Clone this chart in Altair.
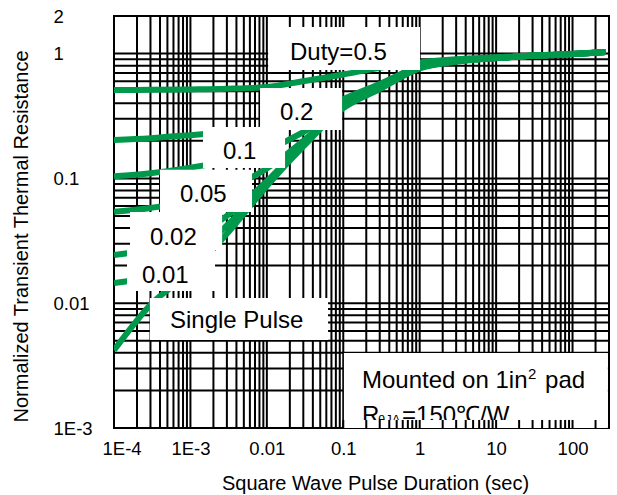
import altair as alt
import pandas as pd

# Pulse durations (s) at which each curve is sampled
pulse_t = [1e-4, 3e-4, 1e-3, 3e-3, 1e-2, 3e-2, 0.1, 0.3, 1, 3, 10, 30, 100, 270]

# Normalized transient thermal resistance, one list per duty cycle
duty_05 = [0.51, 0.512, 0.516, 0.522, 0.54, 0.60, 0.68, 0.77, 0.85, 0.90, 0.935, 0.965, 0.995, 1.03]
duty_02 = [0.203, 0.21, 0.222, 0.235, 0.25, 0.29, 0.43, 0.57, 0.79, 0.88, 0.925, 0.96, 0.99, 1.03]
duty_01 = [0.104, 0.110, 0.122, 0.138, 0.17, 0.235, 0.39, 0.54, 0.77, 0.87, 0.92, 0.96, 0.99, 1.03]
duty_005 = [0.054, 0.058, 0.066, 0.083, 0.12, 0.20, 0.38, 0.53, 0.77, 0.87, 0.92, 0.96, 0.99, 1.03]
duty_002 = [0.0243, 0.027, 0.033, 0.05, 0.095, 0.19, 0.375, 0.53, 0.77, 0.87, 0.92, 0.96, 0.99, 1.03]
duty_001 = [0.0145, 0.0165, 0.023, 0.042, 0.09, 0.185, 0.37, 0.525, 0.77, 0.87, 0.92, 0.96, 0.99, 1.03]
single_pulse = [0.0042, 0.0097, 0.0177, 0.036, 0.087, 0.18, 0.365, 0.52, 0.76, 0.86, 0.92, 0.96, 0.99, 1.03]

series = {
    "D=0.5": duty_05,
    "D=0.2": duty_02,
    "D=0.1": duty_01,
    "D=0.05": duty_005,
    "D=0.02": duty_002,
    "D=0.01": duty_001,
    "Single": single_pulse,
}

# Curve labels (white boxes with text)
label_text = ["Duty=0.5", "0.2", "0.1", "0.05", "0.02", "0.01", "Single Pulse", "Mounted on 1in"]
label_t = [0.0201, 0.0149, 0.00267, 7.3e-4, 2.96e-4, 2.32e-4, 5.4e-4, 0.176]
label_r = [0.888, 0.294, 0.143, 0.0647, 0.0292, 0.0145, 0.00632, 0.00209]
box_t0 = [0.0104, 0.00815, 0.00146, 4.0e-4, 1.62e-4, 1.48e-4, 2.95e-4, 0.102]
box_t1 = [1.01, 0.0964, 0.0173, 0.0064, 2.6e-3, 2.1e-3, 0.0632, 290]
box_r0 = [1.63, 0.53, 0.258, 0.117, 0.0537, 0.0267, 0.011, 0.00399]
box_r1 = [0.738, 0.244, 0.121, 0.0537, 0.0267, 0.0125, 0.00507, 0.00116]

# Second line of the mounting note, drawn in pieces for the subscript
rth_t = 0.176
rth_r = 0.0011

GREEN = "#00984A"
FONT = "Liberation Sans"
LABEL_SIZE = 24

# Log grid lines
grid_t = [k * 10.0 ** e for e in range(-4, 2) for k in range(1, 10)] + [100, 200]
grid_r = [k * 10.0 ** e for e in range(-3, 0) for k in range(1, 10)] + [1]

xs = alt.Scale(type="log", domain=[1e-4, 300], nice=False)
ys = alt.Scale(type="log", domain=[1e-3, 2], nice=False)

x_axis = alt.Axis(
    values=[1e-4, 1e-3, 0.01, 0.1, 1, 10, 100],
    labelExpr="datum.value < 5e-4 ? '1E-4' : datum.value < 5e-3 ? '1E-3' : '' + datum.value",
    title="Square Wave Pulse Duration (sec)",
    grid=False, ticks=False, tickSize=0, domain=False,
    labelPadding=11, labelFlush=True, labelFlushOffset=12, labelOverlap=False,
    titleX=261, titleY=55, titleBaseline="middle", titleAlign="center",
)
y_axis = alt.Axis(
    values=[0.001, 0.01, 0.1, 1, 2],
    labelExpr="datum.value < 0.005 ? '1E-3' : '' + datum.value",
    title="Normalized Transient Thermal Resistance",
    grid=False, ticks=False, tickSize=0, domain=False,
    labelAlign="left", labelPadding=61, labelFlush=False, labelOverlap=False,
    titleX=-93, titleY=220, titleAngle=-90, titleBaseline="middle", titleAlign="center",
)


def X(field="t"):
    return alt.X(f"{field}:Q", scale=xs, axis=x_axis)


def Y(field="r"):
    return alt.Y(f"{field}:Q", scale=ys, axis=y_axis)


curves = pd.DataFrame(
    [{"t": t, "r": r, "series": name} for name, vals in series.items() for t, r in zip(pulse_t, vals)]
)
boxes = pd.DataFrame({"t": box_t0, "t2": box_t1, "r": box_r0, "r2": box_r1})
labels = pd.DataFrame({"t": label_t, "r": label_r, "label": label_text})

hgrid = alt.Chart(pd.DataFrame({"r": grid_r})).mark_rule(color="black", strokeWidth=2).encode(y=Y())
vgrid = alt.Chart(pd.DataFrame({"t": grid_t})).mark_rule(color="black", strokeWidth=2).encode(x=X())

lines = alt.Chart(curves).mark_line(
    color=GREEN, strokeWidth=6, interpolate="monotone", strokeCap="butt", clip=True
).encode(x=X(), y=Y(), detail="series:N", order="t:Q")

box_layer = alt.Chart(boxes).mark_rect(color="white", strokeWidth=0).encode(
    x=X(), x2="t2:Q", y=Y(), y2="r2:Q"
)

text_layer = alt.Chart(labels).mark_text(
    align="left", baseline="alphabetic", fontSize=LABEL_SIZE, font=FONT, color="black"
).encode(x=X(), y=Y(), text="label:N")

# "in²" superscript and the rest of the first note line
note = pd.DataFrame({"t": [label_t[-1]], "r": [label_r[-1]]})
note_sup = alt.Chart(note).mark_text(
    align="left", baseline="alphabetic", fontSize=15, font=FONT, color="black", text="2", dx=166, dy=-9
).encode(x=X(), y=Y())
note_rest = alt.Chart(note).mark_text(
    align="left", baseline="alphabetic", fontSize=LABEL_SIZE, font=FONT, color="black", text="pad", dx=183
).encode(x=X(), y=Y())

rth = pd.DataFrame({"t": [rth_t], "r": [rth_r]})
rth_main = alt.Chart(rth).mark_text(
    align="left", baseline="alphabetic", fontSize=LABEL_SIZE, font=FONT, color="black", text="R"
).encode(x=X(), y=Y())
rth_sub = alt.Chart(rth).mark_text(
    align="left", baseline="alphabetic", fontSize=13, font=FONT, color="black", text="\u03b8JA", dx=16, dy=1
).encode(x=X(), y=Y())
rth_rest = alt.Chart(rth).mark_text(
    align="left", baseline="alphabetic", fontSize=LABEL_SIZE, font=FONT, color="black", text="=150\u2103/W", dx=40
).encode(x=X(), y=Y())

# Thin strip under the note box: hides the lower part of the second line and
# lets the vertical grid show through again
strip = pd.DataFrame({"t": [0.102], "t2": [290], "r": [0.00116], "r2": [0.001]})
strip_rect = alt.Chart(strip).mark_rect(color="white", strokeWidth=0).encode(
    x=X(), x2="t2:Q", y=Y(), y2="r2:Q"
)
strip_grid = pd.DataFrame({"t": [v for v in grid_t if v >= 0.1], "r": 0.00116, "r2": 0.001})
strip_rules = alt.Chart(strip_grid).mark_rule(color="black", strokeWidth=2).encode(
    x=X(), y=Y(), y2="r2:Q"
)

chart = alt.layer(
    hgrid, vgrid, lines, box_layer, text_layer, note_sup, note_rest,
    rth_main, rth_sub, rth_rest, strip_rect, strip_rules
).properties(
    width=495,
    height=412,
    autosize=alt.AutoSizeParams(type="none"),
    padding={"left": 114, "top": 16, "right": 8, "bottom": 67},
    background="white",
).configure_view(
    stroke="black", strokeWidth=2, fill="white"
).configure_axis(
    labelFont=FONT, labelFontSize=18.5, labelColor="black",
    titleFont=FONT, titleFontSize=20, titleFontWeight="normal", titleColor="black",
)

chart.save("out.html", embed_options={"renderer": "svg", "actions": False})
